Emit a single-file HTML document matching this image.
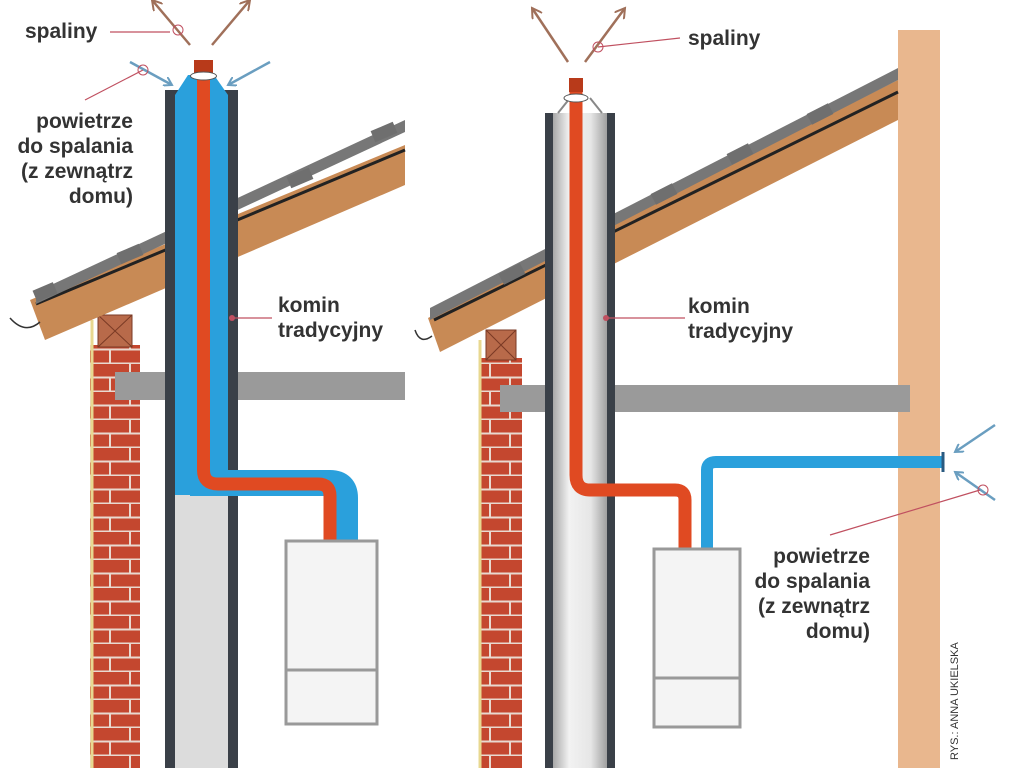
<!DOCTYPE html>
<html><head><meta charset="utf-8"><style>
html,body{margin:0;padding:0;background:#fff;width:1024px;height:768px;overflow:hidden}
svg{display:block}
text{font-family:"Liberation Sans Narrow","Liberation Sans",sans-serif;font-weight:bold;fill:#333;font-size:21px}
</style></head><body>
<svg width="1024" height="768" viewBox="0 0 1024 768" xmlns="http://www.w3.org/2000/svg">
<defs>
<pattern id="brick" width="40" height="28" patternUnits="userSpaceOnUse">
<rect width="40" height="28" fill="#c4472f"/>
<path d="M0 13.5H40M0 27.5H40M10 0V14M30 14V28" stroke="#e9d9cf" stroke-width="2"/>
</pattern>
<linearGradient id="steel" x1="0" x2="1">
<stop offset="0" stop-color="#a8a8a8"/><stop offset="0.3" stop-color="#f2f2f2"/><stop offset="0.7" stop-color="#e6e6e6"/><stop offset="1" stop-color="#a0a0a0"/>
</linearGradient>
<marker id="ab" markerWidth="10" markerHeight="10" refX="8" refY="5" orient="auto" markerUnits="userSpaceOnUse"><path d="M0 0L8 5L0 10" fill="none" stroke="#6a9ec0" stroke-width="2"/></marker>
<marker id="ar" markerWidth="12" markerHeight="12" refX="10" refY="6" orient="auto" markerUnits="userSpaceOnUse"><path d="M0 0L10 6L0 12" fill="none" stroke="#a0705a" stroke-width="2"/></marker>
</defs>

<!-- LEFT SCENE -->
<!-- brick column -->
<rect x="90" y="345" width="50" height="423" fill="url(#brick)"/>
<rect x="98" y="315" width="34" height="32" fill="#b86a4a" stroke="#7a3a25"/>
<path d="M98 315L132 347M132 315L98 347" stroke="#7a3a25"/>
<line x1="92" y1="320" x2="92" y2="768" stroke="#e8d890" stroke-width="3"/>
<!-- roof -->
<polygon points="30,300 405,145 405,185 45,340" fill="#c88a55"/>
<line x1="36" y1="304" x2="405" y2="150" stroke="#222" stroke-width="3"/>
<polygon points="36,292 405,120 405,132 36,304" fill="#777"/>
<g fill="#6f6f6f"><rect x="34" y="286" width="22" height="12" transform="rotate(-23 45 292)"/><rect x="118" y="248" width="24" height="12" transform="rotate(-23 130 254)"/><rect x="288" y="172" width="24" height="12" transform="rotate(-23 300 178)"/><rect x="372" y="126" width="24" height="12" transform="rotate(-23 384 132)"/></g>
<path d="M10 318Q25 335 40 322" fill="none" stroke="#333" stroke-width="1.5"/>
<!-- beam -->
<rect x="115" y="372" width="290" height="28" fill="#9a9a9a"/>
<!-- chimney -->
<rect x="165" y="90" width="73" height="678" fill="#3a4048"/>
<rect x="175" y="495" width="53" height="273" fill="#dcdcdc"/>
<polygon points="175,495 175,95 188,75 214,75 228,95 228,495" fill="#2aa0dc"/>
<!-- blue sleeve horizontal -->
<path d="M190 483H330Q345 483 345 498V540" fill="none" stroke="#2aa0dc" stroke-width="26"/>
<!-- red flue -->
<path d="M203.5 62V470Q203.5 484 218 484H318Q330 484 330 496V540" fill="none" stroke="#e04a22" stroke-width="13"/>
<rect x="194" y="60" width="19" height="14" fill="#b83a1a"/>
<ellipse cx="203.5" cy="76" rx="13" ry="4" fill="#fff" stroke="#555"/>
<!-- boiler -->
<rect x="286" y="541" width="91" height="183" fill="#f4f4f4" stroke="#999" stroke-width="3"/>
<line x1="286" y1="670" x2="377" y2="670" stroke="#999" stroke-width="3"/>
<!-- arrows -->
<line x1="190" y1="45" x2="152" y2="0" stroke="#a0705a" stroke-width="2.5" marker-end="url(#ar)"/>
<line x1="212" y1="45" x2="250" y2="0" stroke="#a0705a" stroke-width="2.5" marker-end="url(#ar)"/>
<line x1="130" y1="62" x2="172" y2="85" stroke="#6a9ec0" stroke-width="2.5" marker-end="url(#ab)"/>
<line x1="270" y1="62" x2="228" y2="85" stroke="#6a9ec0" stroke-width="2.5" marker-end="url(#ab)"/>
<!-- leaders -->
<path d="M110 32H170" stroke="#c05060" stroke-width="1.2"/><circle cx="178" cy="30" r="5" fill="none" stroke="#c05060"/>
<path d="M85 100L143 70" stroke="#c05060" stroke-width="1.2"/><circle cx="143" cy="70" r="5" fill="none" stroke="#c05060"/>
<path d="M232 318H272" stroke="#c05060" stroke-width="1.2"/><circle cx="232" cy="318" r="3" fill="#c05060"/>
<text x="25" y="38">spaliny</text>
<text x="133" y="128" text-anchor="end">powietrze</text>
<text x="133" y="153" text-anchor="end">do spalania</text>
<text x="133" y="178" text-anchor="end">(z zewnątrz</text>
<text x="133" y="203" text-anchor="end">domu)</text>
<text x="278" y="312">komin</text>
<text x="278" y="337">tradycyjny</text>

<!-- RIGHT SCENE -->
<rect x="898" y="30" width="42" height="738" fill="#e9b78e"/>
<rect x="480" y="358" width="42" height="410" fill="url(#brick)"/>
<rect x="486" y="330" width="30" height="30" fill="#b86a4a" stroke="#7a3a25"/>
<path d="M486 330L516 360M516 330L486 360" stroke="#7a3a25"/>
<line x1="480" y1="340" x2="480" y2="768" stroke="#e8d890" stroke-width="3"/>
<polygon points="428,318 898,80 898,120 440,352" fill="#c88a55"/>
<line x1="434" y1="320" x2="898" y2="92" stroke="#222" stroke-width="3"/>
<polygon points="430,308 898,68 898,80 430,320" fill="#777"/>
<g fill="#6f6f6f"><rect x="500" y="268" width="24" height="12" transform="rotate(-27 512 274)"/><rect x="652" y="188" width="24" height="12" transform="rotate(-27 664 194)"/><rect x="728" y="148" width="24" height="12" transform="rotate(-27 740 154)"/><rect x="808" y="108" width="24" height="12" transform="rotate(-27 820 114)"/></g>
<path d="M415 330Q420 345 432 336" fill="none" stroke="#333" stroke-width="1.5"/>
<rect x="500" y="385" width="410" height="27" fill="#9a9a9a"/>
<!-- chimney -->
<rect x="545" y="113" width="70" height="655" fill="#3a4048"/>
<rect x="553" y="113" width="54" height="655" fill="url(#steel)"/>
<path d="M558 113L570 98M602 113L590 98" stroke="#888" stroke-width="2"/>
<!-- blue pipe -->
<path d="M707 548V470Q707 462 716 462H943" fill="none" stroke="#2aa0dc" stroke-width="12"/>
<line x1="943" y1="452" x2="943" y2="472" stroke="#2a5a80" stroke-width="3"/>
<!-- red flue -->
<path d="M576 80V475Q576 490 590 490H675Q685 490 685 500V548" fill="none" stroke="#e04a22" stroke-width="13"/>
<rect x="569" y="78" width="14" height="14" fill="#b83a1a"/>
<ellipse cx="576" cy="98" rx="12" ry="4" fill="#fff" stroke="#555"/>
<rect x="654" y="549" width="86" height="178" fill="#f4f4f4" stroke="#999" stroke-width="3"/>
<line x1="654" y1="678" x2="740" y2="678" stroke="#999" stroke-width="3"/>
<!-- arrows -->
<line x1="568" y1="62" x2="532" y2="8" stroke="#a0705a" stroke-width="2.5" marker-end="url(#ar)"/>
<line x1="585" y1="62" x2="625" y2="8" stroke="#a0705a" stroke-width="2.5" marker-end="url(#ar)"/>
<line x1="995" y1="425" x2="955" y2="452" stroke="#6a9ec0" stroke-width="2.5" marker-end="url(#ab)"/>
<line x1="995" y1="500" x2="955" y2="472" stroke="#6a9ec0" stroke-width="2.5" marker-end="url(#ab)"/>
<path d="M598 47L680 38" stroke="#c05060" stroke-width="1.2"/><circle cx="598" cy="47" r="5" fill="none" stroke="#c05060"/>
<path d="M606 318H685" stroke="#c05060" stroke-width="1.2"/><circle cx="606" cy="318" r="3" fill="#c05060"/>
<path d="M830 535L980 490" stroke="#c05060" stroke-width="1.2"/><circle cx="983" cy="490" r="5" fill="none" stroke="#c05060"/>
<text x="688" y="45">spaliny</text>
<text x="688" y="313">komin</text>
<text x="688" y="338">tradycyjny</text>
<text x="870" y="563" text-anchor="end">powietrze</text>
<text x="870" y="588" text-anchor="end">do spalania</text>
<text x="870" y="613" text-anchor="end">(z zewnątrz</text>
<text x="870" y="638" text-anchor="end">domu)</text>
<text transform="translate(958 760) rotate(-90)" style="font-size:11px;font-weight:normal">RYS.: ANNA UKIELSKA</text>
</svg>
</body></html>
